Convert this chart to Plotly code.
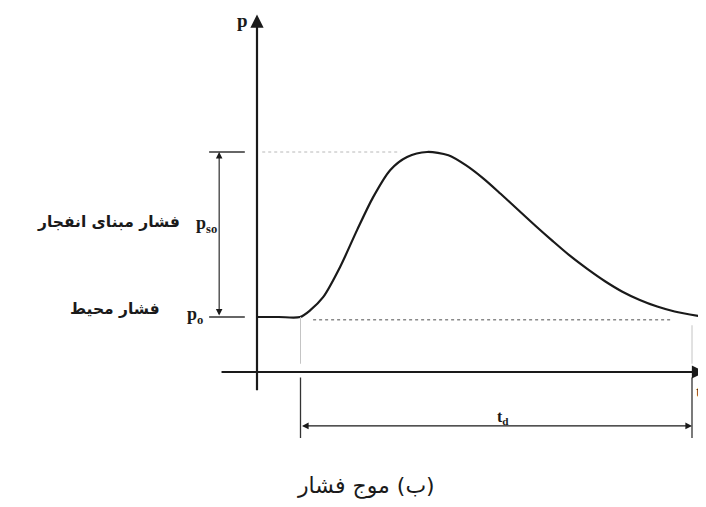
import plotly.graph_objects as go

# pressure wave (overpressure) - time in arbitrary units, pressure relative to p_o
time = [0.0, 0.5, 0.99, 1.22, 1.52, 1.91, 2.30, 2.67, 3.06, 3.45, 3.91, 4.4, 4.8,
        5.2, 5.6, 6.0, 6.4, 6.8, 7.2, 7.6, 8.0, 8.4, 8.8, 9.2, 9.6, 10.14]
pressure = [1.0, 1.0, 1.0, 1.12, 1.36, 1.91, 2.58, 3.18, 3.67, 3.91, 4.0, 3.94, 3.76,
            3.52, 3.24, 2.95, 2.66, 2.38, 2.11, 1.87, 1.65, 1.46, 1.31, 1.19, 1.10, 1.02]

p_ambient = 1.0
p_peak = 4.0
t_arrival = 1.0
t_duration = 9.0
t_end = t_arrival + t_duration

serif = "Liberation Serif"
fa_font = "DejaVu Sans"
ink = "#1a1a1a"

fig = go.Figure()

# main curve
fig.add_trace(go.Scatter(x=time, y=pressure, mode="lines",
                         line=dict(color=ink, width=2.2, shape="spline", smoothing=0.8),
                         hoverinfo="skip"))

# reference lines
fig.add_trace(go.Scatter(x=[0.12, 3.3], y=[p_peak, p_peak], mode="lines",
                         line=dict(color="#b8b8b8", width=1, dash="dot"), hoverinfo="skip"))
fig.add_trace(go.Scatter(x=[1.29, 9.56], y=[0.95, 0.95], mode="lines",
                         line=dict(color="#8a8a8a", width=1.5, dash="dot"), hoverinfo="skip"))

# ticks for p_so and p_o
for lvl in [p_peak, p_ambient]:
    fig.add_trace(go.Scatter(x=[-1.1, -0.28], y=[lvl, lvl], mode="lines",
                             line=dict(color="#333333", width=1.3), hoverinfo="skip"))

# guide lines at arrival and end of positive phase
for tt, top in [(t_arrival, p_ambient), (t_end, 0.85)]:
    fig.add_trace(go.Scatter(x=[tt, tt], y=[top, 0.15], mode="lines",
                             line=dict(color="#c4c4c4", width=1), hoverinfo="skip"))
    fig.add_trace(go.Scatter(x=[tt, tt], y=[-0.1, -1.2], mode="lines",
                             line=dict(color="#333333", width=1.3), hoverinfo="skip"))

arrows = [
    # y axis
    dict(x=0, y=6.5, ax=0, ay=-0.36, arrowside="end", arrowwidth=2.2, arrowsize=1.2),
    # x axis
    dict(x=10.3, y=0, ax=-0.85, ay=0, arrowside="end", arrowwidth=2.2, arrowsize=1.2),
    # p_so double arrow
    dict(x=-0.87, y=p_peak, ax=-0.87, ay=p_ambient, arrowside="end+start", arrowwidth=1.1, arrowsize=1.2),
    # t_d double arrow
    dict(x=t_end, y=-0.98, ax=t_arrival, ay=-0.98, arrowside="end+start", arrowwidth=1.1, arrowsize=1.2),
]
for a in arrows:
    fig.add_annotation(x=a["x"], y=a["y"], ax=a["ax"], ay=a["ay"], xref="x", yref="y",
                       axref="x", ayref="y", text="", showarrow=True, arrowhead=2,
                       arrowside=a["arrowside"], arrowwidth=a["arrowwidth"],
                       arrowsize=a["arrowsize"], arrowcolor=ink)

labels = [
    (-0.33, 6.4, "<b>p</b>", serif, 19, "center"),
    (10.15, -0.36, "<b>t</b>", serif, 17, "center"),
    (-1.17, 2.68, "<b>p<sub>so</sub></b>", serif, 18, "center"),
    (-1.42, 1.02, "<b>p<sub>o</sub></b>", serif, 18, "center"),
    (5.65, -0.83, "<b>t<sub>d</sub></b>", serif, 16, "center"),
    (-1.75, 2.73, "<b>فشار مبنای انفجار</b>", fa_font, 15.5, "right"),
    (-2.2, 1.14, "<b>فشار محیط</b>", fa_font, 15.5, "right"),
    (2.5, -2.07, "\u200f(ب) موج فشار", fa_font, 22, "center"),
]
for x, y, txt, fam, size, anchor in labels:
    fig.add_annotation(x=x, y=y, xref="x", yref="y", text=txt, showarrow=False,
                       xanchor=anchor, yanchor="middle", borderpad=0,
                       font=dict(family=fam, size=size, color=ink))

# page body adds an 8px offset, so the figure is 8px smaller and the ranges shifted
fig.update_layout(
    width=698, height=499,
    margin=dict(l=0, r=0, t=0, b=0),
    paper_bgcolor="white", plot_bgcolor="white",
    showlegend=False,
    xaxis=dict(range=[-249 / 43.5, 449 / 43.5], visible=False, fixedrange=True),
    yaxis=dict(range=[-135 / 55, 364 / 55], visible=False, fixedrange=True),
)

fig.write_html("out.html")
